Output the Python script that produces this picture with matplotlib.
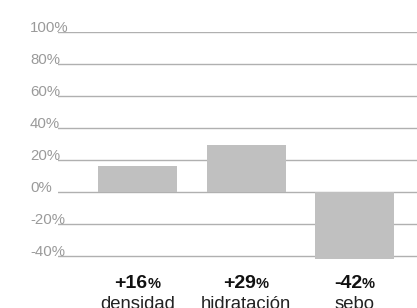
import matplotlib.pyplot as plt
from matplotlib import transforms

# data ------------------------------------------------------------------
categories = ["densidad", "hidratación", "sebo"]
values = [16, 29, -42]
value_labels = ["+16", "+29", "-42"]
ytick_values = [100, 80, 60, 40, 20, 0, -20, -40]
ytick_labels = ["100%", "80%", "60%", "40%", "20%", "0%", "-20%", "-40%"]

W, H = 417, 308
fig = plt.figure(figsize=(W / 100, H / 100), dpi=100)

# axes placed in pixel terms: x 58..417, y 32(top=100) .. 263.5(bottom=-45)
ax = fig.add_axes([58 / W, (H - 263.5) / H, (W - 58) / W, 231.5 / H])
ax.set_ylim(-45, 100)
ax.set_xlim(-0.733, 2.576)
ax.axis("off")

# grid lines
for v in ytick_values:
    ax.axhline(v, color="#b0b0b0", lw=1.0, zorder=1)

ax.bar(range(len(values)), values, width=0.728, color="#c0c0c0", zorder=2)

# y labels sit on top of the lines, left aligned at x=30px
tr = transforms.blended_transform_factory(fig.transFigure, ax.transData)
for v, lab in zip(ytick_values, ytick_labels):
    ax.text(30 / W, v, lab, transform=tr, ha="left", va="baseline",
            fontsize=10.8, color="#9a9a9a", family="Liberation Sans", zorder=3)

# value + category labels under bars
trx = transforms.blended_transform_factory(ax.transData, fig.transFigure)
fig.canvas.draw()
r = fig.canvas.get_renderer()
for i, (num, cat) in enumerate(zip(value_labels, categories)):
    t1 = ax.text(i, (H - 287.5) / H, num, transform=trx, ha="left", va="baseline",
                 fontsize=14, fontweight="bold", color="#111111",
                 family="Liberation Sans")
    t2 = ax.text(i, (H - 287.5) / H, "%", transform=trx, ha="left", va="baseline",
                 fontsize=10.5, fontweight="bold", color="#111111",
                 family="Liberation Sans")
    w1 = t1.get_window_extent(r).width
    w2 = t2.get_window_extent(r).width
    shift = (w1 + w2) / 2
    off = transforms.ScaledTranslation(-shift / 100, 0, fig.dpi_scale_trans)
    t1.set_transform(trx + off)
    off2 = transforms.ScaledTranslation((w1 - shift) / 100, 0, fig.dpi_scale_trans)
    t2.set_transform(trx + off2)
    ax.text(i, (H - 309) / H, cat, transform=trx, ha="center", va="baseline",
            fontsize=13.3, color="#222222", family="Liberation Sans")

fig.savefig("out.png", dpi=100)
